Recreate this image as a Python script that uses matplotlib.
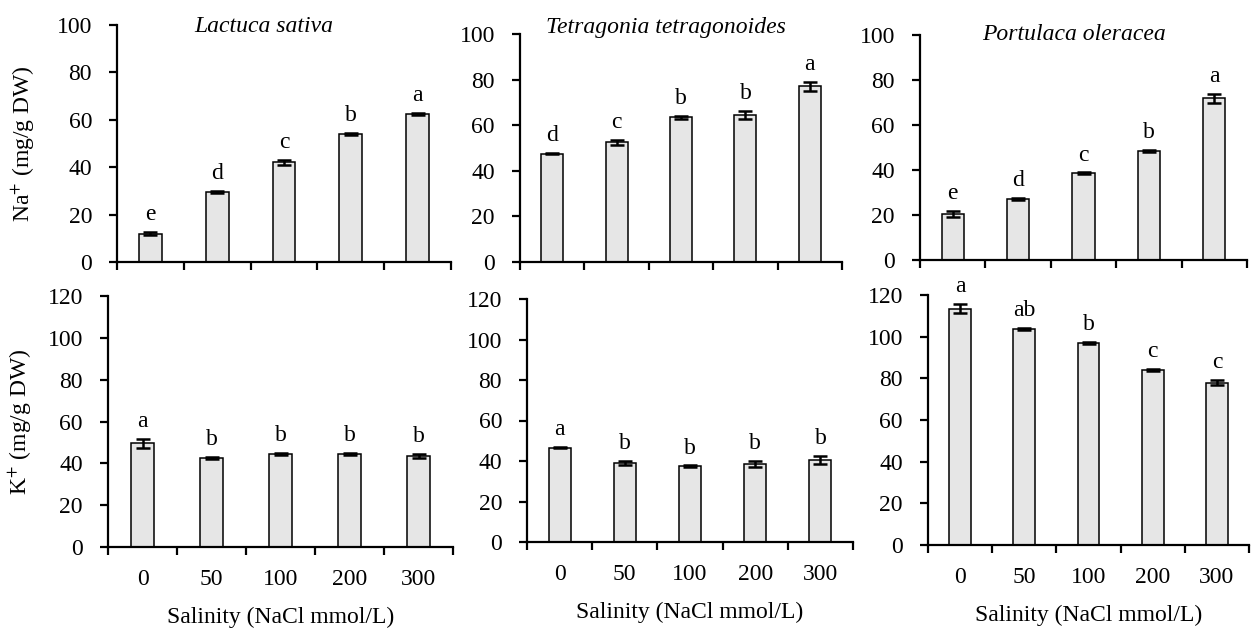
import matplotlib
matplotlib.use("Agg")
import matplotlib.pyplot as plt
import numpy as np

salinity = ["0", "50", "100", "200", "300"]
species = ["Lactuca sativa", "Tetragonia tetragonoides", "Portulaca oleracea"]

na_mean = [[12, 29.5, 42, 54, 62.5],
           [47.5, 52.5, 63.5, 64.5, 77],
           [20.5, 27, 38.5, 48.5, 72]]
na_err = [[0.5, 0.4, 1.0, 0.5, 0.5],
          [0.3, 1.2, 0.6, 1.8, 2.0],
          [1.5, 0.4, 0.4, 0.5, 2.0]]
na_letters = [["e", "d", "c", "b", "a"],
              ["d", "c", "b", "b", "a"],
              ["e", "d", "c", "b", "a"]]

k_mean = [[49.5, 42.5, 44.5, 44.5, 43.5],
          [46.5, 39, 37.5, 38.5, 40.5],
          [113.5, 103.5, 97, 84, 78]]
k_err = [[2.0, 0.4, 0.5, 0.3, 1.0],
         [0.3, 0.8, 0.3, 1.5, 2.0],
         [2.0, 0.5, 0.5, 0.5, 1.0]]
k_letters = [["a", "b", "b", "b", "b"],
             ["a", "b", "b", "b", "b"],
             ["a", "ab", "b", "c", "c"]]

plt.rcParams['font.family'] = ['Liberation Serif', 'DejaVu Serif']
plt.rcParams['mathtext.fontset'] = 'stix'
FS = 17

W, H = 1252, 633
fig = plt.figure(figsize=(W / 100, H / 100), dpi=100)

# pixel boxes: left, right, top, bottom
top_boxes = [(117, 451, 25, 262), (520, 842, 34, 262), (920, 1247, 35, 260)]
bot_boxes = [(108, 453, 296, 547), (527, 853, 299, 542), (928, 1249, 295, 545)]
title_pos = [(264, 27), (666, 27), (1074, 35)]


def make_ax(box):
    l, r, t, b = box
    return fig.add_axes([l / W, 1 - b / H, (r - l) / W, (b - t) / H])


def draw(ax, means, errs, letters, ymax):
    x = np.arange(len(salinity))
    ax.bar(x, means, width=0.34, color="#e6e6e6", edgecolor="black", linewidth=1.1, zorder=2)
    ax.errorbar(x, means, yerr=errs, fmt="none", ecolor="black", elinewidth=1.8,
                capsize=5, capthick=1.8, zorder=3)
    for xi, m, e, lt in zip(x, means, errs, letters):
        ax.annotate(lt, (xi, m + e), xytext=(0, 5), textcoords="offset points",
                    ha="center", va="bottom", fontsize=FS)
    ax.set_xlim(-0.5, len(salinity) - 0.5)
    ax.set_ylim(0, ymax)
    ax.set_yticks(np.arange(0, ymax + 1, 20))
    ax.set_xticks(np.arange(-0.5, len(salinity), 1.0))
    ax.set_xticklabels([])
    ax.set_xticks(x, minor=True)
    for s in ["top", "right"]:
        ax.spines[s].set_visible(False)
    for s in ["left", "bottom"]:
        ax.spines[s].set_linewidth(1.6)
    ax.tick_params(axis="x", which="major", direction="out", length=6, width=1.6)
    ax.tick_params(axis="x", which="minor", length=0, labelsize=FS, pad=16)
    ax.tick_params(axis="y", direction="out", length=6, width=1.6, labelsize=FS, pad=12)


for i in range(3):
    l, r, t, b = top_boxes[i]
    ax = make_ax(top_boxes[i])
    draw(ax, na_mean[i], na_err[i], na_letters[i], 100)
    tx, ty = title_pos[i]
    ax.text((tx - l) / (r - l), (b - ty) / (b - t), species[i], transform=ax.transAxes,
            fontsize=FS, style="italic", ha="center", va="center")
    if i == 0:
        ax.set_ylabel(r"Na$^{+}$ (mg/g DW)", fontsize=FS, labelpad=14)

    ax = make_ax(bot_boxes[i])
    draw(ax, k_mean[i], k_err[i], k_letters[i], 120)
    ax.set_xticklabels(salinity, minor=True)
    ax.set_xlabel("Salinity (NaCl mmol/L)", fontsize=FS, labelpad=12)
    if i == 0:
        ax.set_ylabel(r"K$^{+}$ (mg/g DW)", fontsize=FS, labelpad=10)

fig.savefig("out.png", dpi=100)
